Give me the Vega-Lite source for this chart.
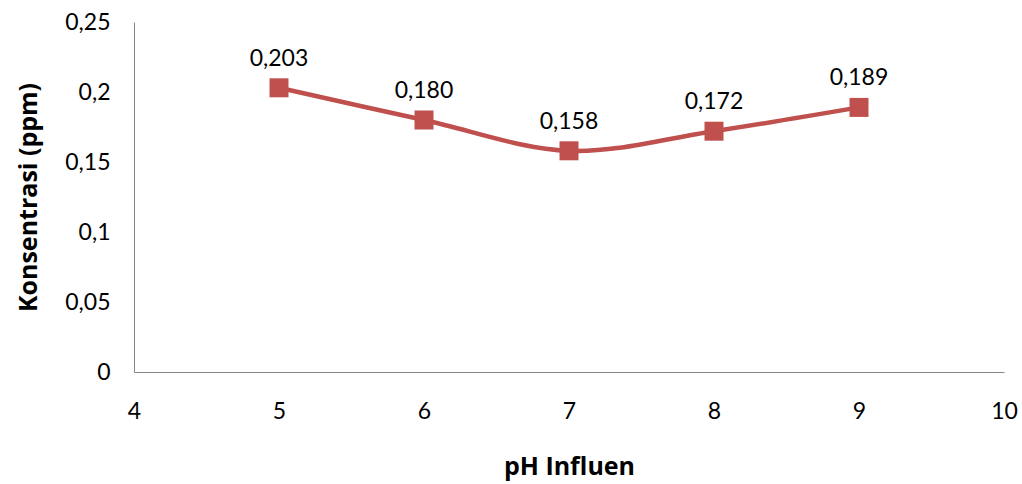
{
  "$schema": "https://vega.github.io/schema/vega-lite/v6.json",
  "autosize": "none",
  "width": 870,
  "height": 350,
  "padding": {"left": 134, "top": 22, "right": 18, "bottom": 112},
  "config": {
    "locale": {"number": {"decimal": ",", "thousands": ".", "grouping": [3], "currency": ["", ""]}},
    "view": {"stroke": null},
    "font": "Lato"
  },
  "data": {"values": [
    {"ph": 5, "konsentrasi": 0.203},
    {"ph": 6, "konsentrasi": 0.180},
    {"ph": 7, "konsentrasi": 0.158},
    {"ph": 8, "konsentrasi": 0.172},
    {"ph": 9, "konsentrasi": 0.189}
  ]},
  "encoding": {
    "x": {"field": "ph", "type": "quantitative",
      "scale": {"domain": [4, 10], "nice": false, "zero": false},
      "axis": {"title": "pH Influen", "values": [4,5,6,7,8,9,10], "grid": false, "ticks": false, "labelFlush": false,
        "domainColor": "#868686", "labelFontSize": 23, "labelColor": "#000", "labelPadding": 28,
        "titleFontSize": 25, "titleFontWeight": "bold", "titleColor": "#000", "titlePadding": 31, "labelFont": "Lato", "titleFont": "Open Sans"}},
    "y": {"field": "konsentrasi", "type": "quantitative",
      "scale": {"domain": [0, 0.25], "nice": false},
      "axis": {"title": "Konsentrasi (ppm)", "values": [0, 0.05, 0.1, 0.15, 0.2, 0.25], "format": "~g", "grid": false, "ticks": false, "labelFlush": false,
        "domainColor": "#868686", "labelFontSize": 23, "labelColor": "#000", "labelPadding": 24,
        "titleFontSize": 25, "titleFontWeight": "bold", "titleColor": "#000", "titlePadding": 23, "titleFont": "Open Sans"}}
  },
  "layer": [
    {"mark": {"type": "line", "color": "#C0504D", "strokeWidth": 4.5, "interpolate": "catmull-rom"}},
    {"mark": {"type": "point", "shape": "square", "filled": true, "color": "#C0504D", "opacity": 1, "size": 361}},
    {"mark": {"type": "text", "dy": -29, "fontSize": 23, "color": "#000"},
     "encoding": {"text": {"field": "konsentrasi", "type": "quantitative", "format": ".3f"}}}
  ]
}
